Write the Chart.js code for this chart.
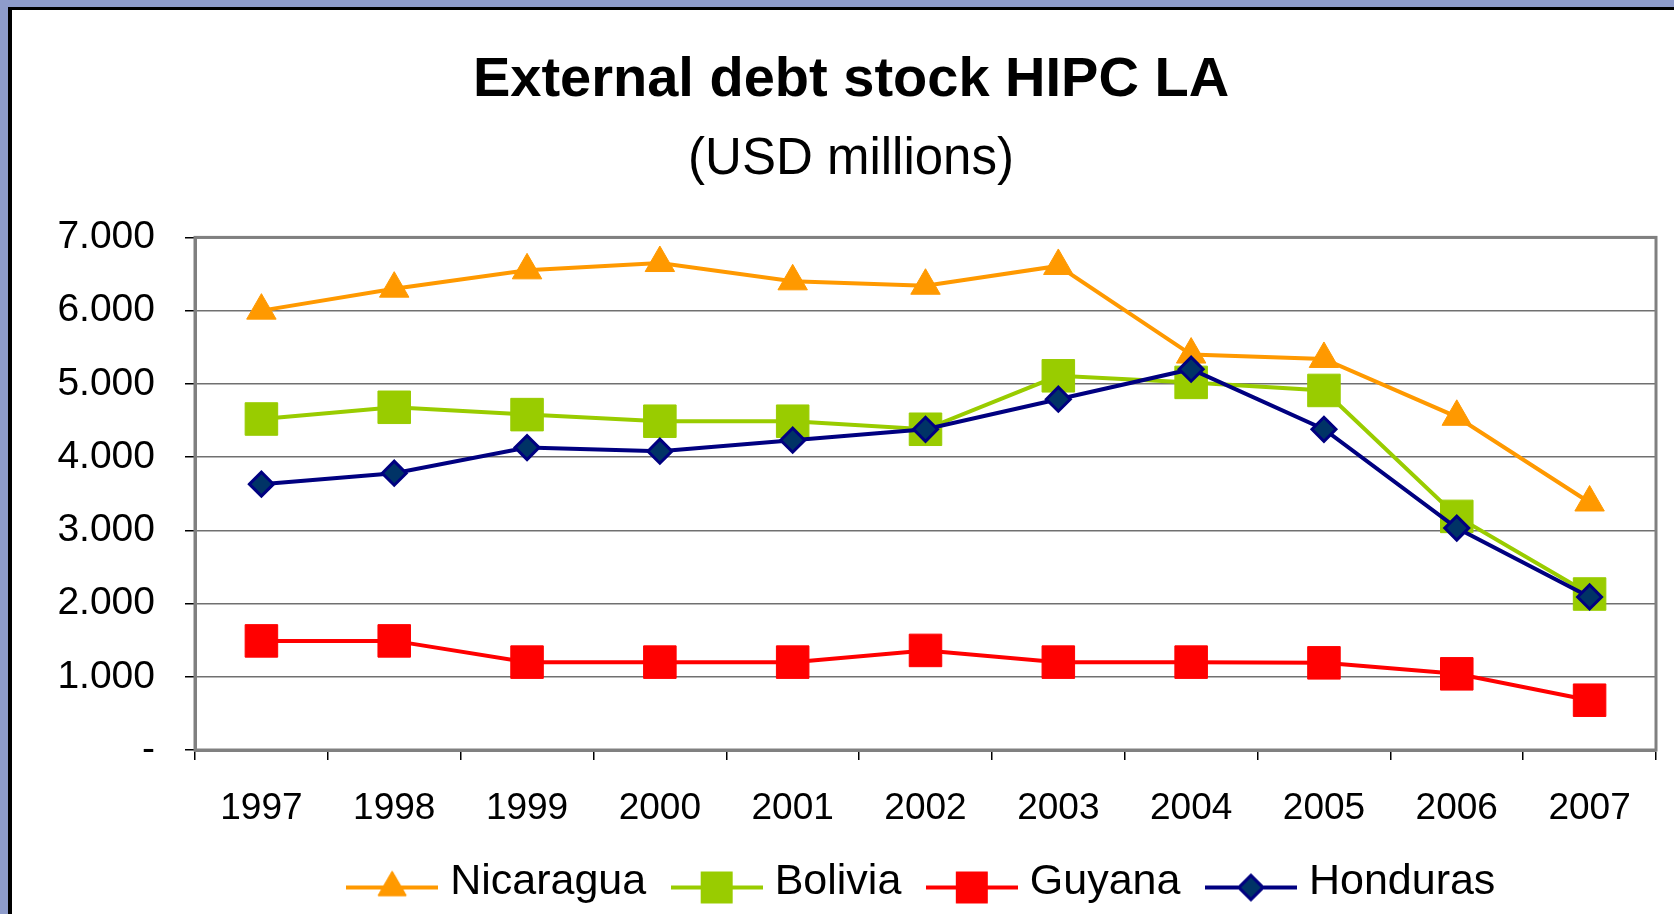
<!DOCTYPE html>
<html>
<head>
<meta charset="utf-8">
<script src="https://cdn.jsdelivr.net/npm/chart.js@4/dist/chart.umd.min.js"></script>
<style>
  html, body { margin: 0; padding: 0; background: #8e9ccb; overflow: hidden; }
  #frame {
    position: absolute; left: 8px; top: 7px;
    width: 1662px; height: 904px;
    border-left: 4px solid #000; border-top: 3px solid #000;
    background: #fff;
  }
</style>
</head>
<body>
<div id="frame"><canvas id="debt" width="1662" height="904"></canvas></div>
<script>
"use strict";

// values (USD millions)
var years = ["1997", "1998", "1999", "2000", "2001", "2002", "2003", "2004", "2005", "2006", "2007"];
var nicaragua = [6000, 6300, 6550, 6650, 6400, 6340, 6610, 5400, 5340, 4550, 3380];
var bolivia = [4520, 4680, 4580, 4490, 4490, 4380, 5110, 5020, 4910, 3190, 2130];
var guyana = [1490, 1490, 1200, 1200, 1200, 1360, 1200, 1200, 1190, 1040, 680];
var honduras = [3630, 3780, 4130, 4080, 4230, 4380, 4790, 5200, 4380, 3030, 2090];
var yTickLabels = ["-", "1.000", "2.000", "3.000", "4.000", "5.000", "6.000", "7.000"];

var FONT = "'Liberation Sans', Arial, Helvetica, sans-serif";

function series(label, data, color, style, radius, fill, borderColor, borderWidth, order) {
  return {
    label: label,
    data: data,
    order: order,
    borderColor: color,
    borderWidth: 4,
    pointStyle: style,
    pointRadius: radius,
    pointHoverRadius: radius,
    pointBackgroundColor: fill,
    pointBorderColor: borderColor,
    pointBorderWidth: borderWidth,
    tension: 0,
    fill: false
  };
}

var datasets = [
  series("Nicaragua", nicaragua, "#ff9900", "triangle", 17, "#ff9900", "#ff9900", 1, 4),
  series("Bolivia", bolivia, "#99cc00", "rect", 23, "#99cc00", "#99cc00", 1, 3),
  series("Guyana", guyana, "#ff0000", "rect", 23, "#ff0000", "#ff0000", 1, 2),
  series("Honduras", honduras, "#000080", "rectRot", 12, "#003366", "#000080", 3, 1)
];

// legend swatch: short line with the marker in the middle
function legendSwatch(ds, scale) {
  var c = document.createElement("canvas");
  c.width = 92;
  c.height = 50;
  var ctx = c.getContext("2d");
  ctx.strokeStyle = ds.borderColor;
  ctx.lineWidth = 4;
  ctx.beginPath();
  ctx.moveTo(0, 30);
  ctx.lineTo(92, 30);
  ctx.stroke();
  ctx.fillStyle = ds.pointBackgroundColor;
  ctx.strokeStyle = ds.pointBorderColor;
  ctx.lineWidth = ds.pointBorderWidth;
  Chart.helpers.drawPoint(ctx, {
    pointStyle: ds.pointStyle,
    radius: ds.pointRadius * scale,
    rotation: 0,
    borderWidth: ds.pointBorderWidth
  }, 46, 30);
  ctx.fill();
  if (ds.pointBorderWidth > 0) ctx.stroke();
  return c;
}

var swatches = datasets.map(function(ds) {
  return legendSwatch(ds, ds.pointStyle === "rectRot" ? 1 : 0.95);
});

var plotFrame = {
  id: "plotFrame",
  beforeDatasetsDraw: function(chart) {
    var a = chart.chartArea;
    var ctx = chart.ctx;
    ctx.save();
    ctx.strokeStyle = "#808080";
    ctx.lineWidth = 3;
    ctx.strokeRect(a.left, a.top, a.right - a.left, a.bottom - a.top);
    ctx.restore();
  }
};

new Chart(document.getElementById("debt"), {
  type: "line",
  data: { labels: years, datasets: datasets },
  plugins: [plotFrame],
  options: {
    responsive: false,
    animation: false,
    events: [],
    layout: { autoPadding: false, padding: { left: 16, top: 0, right: 0, bottom: 0 } },
    plugins: {
      title: {
        display: true,
        text: "External debt stock HIPC LA",
        color: "#000",
        font: { family: FONT, size: 56, weight: "bold" },
        padding: { top: 37, bottom: 13 }
      },
      subtitle: {
        display: true,
        text: "(USD millions)",
        color: "#000",
        font: { family: FONT, size: 51, weight: "normal" },
        padding: { top: 2, bottom: 47 }
      },
      legend: {
        display: true,
        position: "bottom",
        fullSize: false,
        labels: {
          color: "#000",
          font: { family: FONT, size: 43 },
          usePointStyle: true,
          pointStyleWidth: 73,
          padding: 34,
          generateLabels: function(chart) {
            return chart.data.datasets.map(function(ds, i) {
              return {
                text: ds.label,
                datasetIndex: i,
                pointStyle: swatches[i],
                fillStyle: "rgba(0,0,0,0)",
                strokeStyle: "rgba(0,0,0,0)",
                lineWidth: 0,
                fontColor: "#000",
                hidden: false
              };
            });
          }
        }
      },
      tooltip: { enabled: false }
    },
    scales: {
      x: {
        type: "category",
        offset: true,
        afterFit: function(scale) {
          scale.height = 77;
          scale.paddingLeft = 0;
          scale.paddingRight = 0;
        },
        grid: {
          display: true,
          offset: true,
          drawOnChartArea: false,
          drawTicks: true,
          tickLength: 10,
          color: "#000",
          lineWidth: 1.5
        },
        border: { display: true, color: "#808080", width: 3 },
        ticks: {
          color: "#000",
          font: { family: FONT, size: 37 },
          padding: 27,
          maxRotation: 0,
          autoSkip: false
        }
      },
      y: {
        min: 0,
        max: 7000,
        afterFit: function(scale) { scale.width = 167; },
        grid: {
          color: "#707070",
          lineWidth: 1.5,
          drawTicks: true,
          tickLength: 10,
          tickColor: "#000"
        },
        border: { display: true, color: "#808080", width: 3 },
        ticks: {
          stepSize: 1000,
          color: "#000",
          font: { family: FONT, size: 39 },
          padding: 30,
          callback: function(value) { return yTickLabels[Math.round(value / 1000)]; }
        }
      },
      yRight: {
        position: "right",
        display: true,
        afterFit: function(scale) { scale.width = 18; },
        grid: { display: false },
        border: { display: false },
        ticks: { display: false }
      }
    }
  }
});
</script>
</body>
</html>
